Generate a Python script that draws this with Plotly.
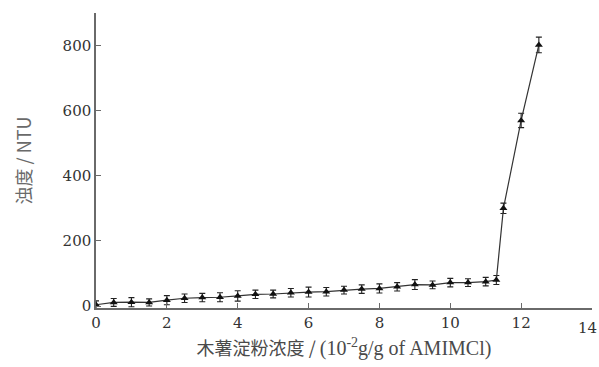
import plotly.graph_objects as go

# Cassava starch concentration (10^-2 g/g of AMIMCl) vs. turbidity (NTU)
conc = [0, 0.5, 1.0, 1.5, 2.0, 2.5, 3.0, 3.5, 4.0, 4.5, 5.0, 5.5, 6.0, 6.5,
        7.0, 7.5, 8.0, 8.5, 9.0, 9.5, 10.0, 10.5, 11.0, 11.3, 11.5, 12.0, 12.5]
turbidity = [4, 11, 12, 11, 18, 24, 26, 27, 31, 36, 37, 41, 43, 44,
             49, 52, 54, 59, 66, 65, 72, 72, 75, 80, 300, 570, 802]
err = [12, 12, 14, 11, 14, 13, 13, 14, 16, 13, 12, 13, 15, 13,
       12, 13, 14, 13, 15, 12, 13, 12, 13, 14, 16, 22, 24]

x_ticks = [0, 2, 4, 6, 8, 10, 12, 14]
y_ticks = [0, 200, 400, 600, 800]

axis_color = "#6a6a6a"
serif = "DejaVu Serif"
latin_title = "Liberation Serif"
cjk = "Noto Sans CJK SC"

x_title = ("木薯淀粉浓度 / "
           f"<span style='font-family:{latin_title}; font-size:20px'>"
           "(10<sup>-2</sup>g/g of AMIMCl)</span>")

fig = go.Figure()
fig.add_trace(go.Scatter(
    x=conc, y=turbidity, mode="lines+markers",
    line=dict(color="#333333", width=1.2),
    marker=dict(symbol="triangle-up", size=7, color="#111111"),
    error_y=dict(type="data", array=err, color="#222222", thickness=1.1, width=3),
    showlegend=False,
))

# the last x tick sits at the figure's right edge; keep its label inside
fig.add_annotation(
    x=x_ticks[-1], y=0, xref="x", yref="paper", yshift=-9, xshift=7,
    text=str(x_ticks[-1]), showarrow=False, xanchor="right", yanchor="top",
    font=dict(family=serif, size=15, color="#333333"),
)

fig.update_layout(
    width=599, height=367,
    margin=dict(l=96, r=7, t=13, b=59),
    plot_bgcolor="white", paper_bgcolor="white",
    font=dict(family=serif, size=15, color="#333333"),
    xaxis=dict(
        range=[0, 14], tickmode="array", tickvals=x_ticks,
        ticktext=[str(v) for v in x_ticks[:-1]] + [""],
        ticks="inside", ticklen=5, tickcolor=axis_color, tickwidth=1.2,
        showline=True, linecolor=axis_color, linewidth=1.5,
        showgrid=False, zeroline=False,
        tickfont=dict(family=serif, size=15, color="#333333"),
        title=dict(
            text=x_title,
            font=dict(family=cjk, size=18, color="#4a4a4a"), standoff=12,
        ),
    ),
    yaxis=dict(
        range=[-6, 900], tickmode="array", tickvals=y_ticks,
        ticks="inside", ticklen=5, tickcolor=axis_color, tickwidth=1.2,
        showline=True, linecolor=axis_color, linewidth=1.5,
        showgrid=False, zeroline=False,
        tickfont=dict(family=serif, size=15, color="#333333"),
        title=dict(
            text="浊度 / NTU",
            font=dict(family=cjk, size=18, color="#6a6a6a"), standoff=26,
        ),
    ),
)

fig.write_html("out.html")
